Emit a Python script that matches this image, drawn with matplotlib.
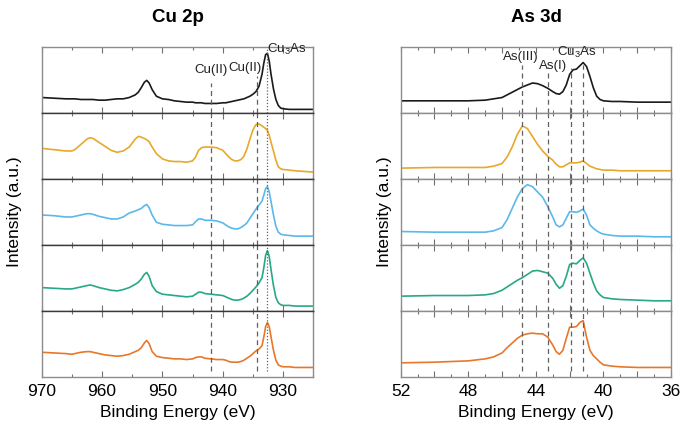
import matplotlib
matplotlib.use('Agg')
import matplotlib.pyplot as plt
from matplotlib.ticker import MultipleLocator, FuncFormatter

plt.rcParams['font.family'] = ['Liberation Sans', 'DejaVu Sans']
plt.rcParams['mathtext.default'] = 'regular'

# Cu 2p spectra (binding energy in eV, intensity as fraction of panel height)
cu_energy = [970, 968, 966, 965, 964.5, 963.5, 962.5, 962, 961.5, 960.5,
             959.5, 958.5, 957.5, 956.5, 955.5, 954.5, 954, 953.5, 953, 952.6,
             952.2, 951.7, 951, 950, 949, 948, 947, 946, 945, 944.5,
             944, 943.5, 943, 942, 941, 940, 939.5, 939, 938.5, 938,
             937.5, 937, 936.5, 936, 935.5, 935, 934.5, 934, 933.5, 933.2,
             932.9, 932.6, 932.3, 932, 931.6, 931.2, 930.8, 930.4, 930, 929,
             928, 926.5, 925]
cu_black = [0.23, 0.22, 0.21, 0.21, 0.21, 0.20, 0.20, 0.20, 0.20, 0.19,
            0.19, 0.20, 0.21, 0.21, 0.23, 0.27, 0.31, 0.38, 0.46, 0.49,
            0.45, 0.35, 0.25, 0.21, 0.20, 0.18, 0.17, 0.16, 0.16, 0.15,
            0.15, 0.15, 0.14, 0.14, 0.14, 0.15, 0.15, 0.16, 0.17, 0.18,
            0.19, 0.20, 0.21, 0.23, 0.25, 0.28, 0.32, 0.40, 0.58, 0.75,
            0.88, 0.90, 0.78, 0.58, 0.36, 0.20, 0.11, 0.07, 0.06, 0.05,
            0.05, 0.05, 0.05]
cu_orange = [0.46, 0.44, 0.42, 0.42, 0.44, 0.52, 0.60, 0.62, 0.61, 0.55,
             0.49, 0.43, 0.40, 0.42, 0.48, 0.60, 0.64, 0.63, 0.61, 0.59,
             0.56, 0.48, 0.38, 0.30, 0.27, 0.26, 0.26, 0.25, 0.27, 0.33,
             0.43, 0.47, 0.48, 0.48, 0.47, 0.43, 0.38, 0.33, 0.29, 0.27,
             0.27, 0.29, 0.34, 0.45, 0.60, 0.74, 0.82, 0.83, 0.80, 0.78,
             0.76, 0.73, 0.66, 0.55, 0.42, 0.28, 0.18, 0.15, 0.14, 0.13,
             0.12, 0.11, 0.10]
cu_blue = [0.45, 0.44, 0.42, 0.42, 0.43, 0.45, 0.47, 0.47, 0.46, 0.43,
           0.41, 0.39, 0.39, 0.42, 0.48, 0.51, 0.53, 0.55, 0.59, 0.61,
           0.56, 0.45, 0.34, 0.31, 0.30, 0.29, 0.29, 0.29, 0.30, 0.35,
           0.39, 0.39, 0.37, 0.37, 0.36, 0.33, 0.30, 0.27, 0.25, 0.24,
           0.24, 0.26, 0.29, 0.33, 0.40, 0.47, 0.54, 0.60, 0.66, 0.75,
           0.85, 0.88, 0.80, 0.65, 0.45, 0.28, 0.19, 0.16, 0.15, 0.14,
           0.13, 0.13, 0.13]
cu_green = [0.35, 0.34, 0.33, 0.33, 0.34, 0.36, 0.38, 0.39, 0.38, 0.35,
            0.33, 0.31, 0.30, 0.32, 0.35, 0.40, 0.43, 0.48, 0.55, 0.58,
            0.52, 0.38, 0.29, 0.25, 0.24, 0.23, 0.22, 0.21, 0.22, 0.25,
            0.28, 0.28, 0.26, 0.25, 0.24, 0.23, 0.21, 0.19, 0.17, 0.16,
            0.16, 0.17, 0.19, 0.22, 0.26, 0.31, 0.36, 0.42, 0.50, 0.65,
            0.84, 0.91, 0.82, 0.62, 0.38, 0.20, 0.12, 0.09, 0.08, 0.08,
            0.07, 0.07, 0.07]
cu_red = [0.37, 0.36, 0.35, 0.34, 0.35, 0.37, 0.38, 0.38, 0.37, 0.35,
          0.33, 0.32, 0.31, 0.32, 0.34, 0.38, 0.40, 0.44, 0.51, 0.55,
          0.50, 0.38, 0.31, 0.29, 0.28, 0.27, 0.27, 0.26, 0.27, 0.29,
          0.30, 0.30, 0.28, 0.27, 0.26, 0.26, 0.25, 0.23, 0.22, 0.22,
          0.22, 0.23, 0.25, 0.28, 0.31, 0.35, 0.39, 0.42, 0.47, 0.60,
          0.76, 0.82, 0.76, 0.60, 0.40, 0.25, 0.18, 0.16, 0.15, 0.15,
          0.14, 0.14, 0.14]

# As 3d spectra
as_energy = [52, 50, 48, 47, 46.5, 46, 45.7, 45.4, 45.1, 44.8,
             44.5, 44.2, 43.9, 43.6, 43.3, 43.0, 42.8, 42.6, 42.4, 42.2,
             42.0, 41.8, 41.6, 41.4, 41.2, 41.0, 40.8, 40.6, 40.4, 40.2,
             40.0, 39.5, 39, 38, 37, 36]
as_black = [0.18, 0.18, 0.18, 0.19, 0.21, 0.23, 0.27, 0.31, 0.35, 0.39,
            0.42, 0.45, 0.44, 0.41, 0.37, 0.32, 0.29, 0.28, 0.32, 0.42,
            0.58, 0.65, 0.66, 0.71, 0.76, 0.70, 0.55, 0.38, 0.25, 0.20,
            0.18, 0.17, 0.17, 0.16, 0.16, 0.16]
as_orange = [0.16, 0.17, 0.17, 0.17, 0.19, 0.23, 0.33, 0.48, 0.67, 0.80,
             0.76, 0.64, 0.52, 0.42, 0.34, 0.28, 0.22, 0.18, 0.18, 0.21,
             0.24, 0.24, 0.24, 0.25, 0.27, 0.23, 0.19, 0.17, 0.15, 0.14,
             0.13, 0.13, 0.12, 0.12, 0.12, 0.12]
as_blue = [0.20, 0.19, 0.19, 0.19, 0.21, 0.26, 0.38, 0.55, 0.72, 0.85,
           0.91, 0.88, 0.80, 0.72, 0.58, 0.42, 0.30, 0.27, 0.30, 0.40,
           0.50, 0.50, 0.49, 0.51, 0.54, 0.45, 0.30, 0.25, 0.21, 0.18,
           0.16, 0.14, 0.13, 0.13, 0.12, 0.12]
as_green = [0.22, 0.23, 0.23, 0.24, 0.26, 0.31, 0.36, 0.41, 0.46, 0.50,
            0.55, 0.60, 0.61, 0.59, 0.57, 0.49, 0.40, 0.34, 0.38, 0.52,
            0.70, 0.72, 0.71, 0.76, 0.80, 0.72, 0.57, 0.42, 0.30, 0.24,
            0.20, 0.18, 0.17, 0.16, 0.15, 0.15]
as_red = [0.21, 0.22, 0.24, 0.27, 0.30, 0.36, 0.44, 0.51, 0.58, 0.63,
          0.65, 0.66, 0.65, 0.65, 0.60, 0.48, 0.38, 0.34, 0.40, 0.58,
          0.75, 0.75, 0.76, 0.82, 0.85, 0.60, 0.40, 0.32, 0.27, 0.22,
          0.18, 0.16, 0.15, 0.14, 0.14, 0.14]

colors = ['#1a1a1a', '#E8A82A', '#5BB8EA', '#27A886', '#E8772A']

cu_lines = [942.0, 934.3, 932.75]
cu_styles = [(0, (4, 3)), (0, (4, 3)), (0, (1, 1.5))]
cu_tops = [0.45, 0.55, 0.97]
as_lines = [44.8, 43.3, 41.9, 41.2]
as_tops = [0.72, 0.60, 0.68, 0.72]

W, H = 684, 429
fig = plt.figure(figsize=(W / 100, H / 100), dpi=100)

row_top = 46.7
row_h = 66.0
panels = [
    dict(x0=41.7, x1=313.3, lim=(970, 925), major=10, minor=5, every=10,
         energy=cu_energy, series=[cu_black, cu_orange, cu_blue, cu_green, cu_red],
         vlines=cu_lines, styles=cu_styles, tops=cu_tops, sep='#3a3a3a'),
    dict(x0=400.7, x1=671.0, lim=(52, 36), major=2, minor=1, every=4,
         energy=as_energy, series=[as_black, as_orange, as_blue, as_green, as_red],
         vlines=as_lines, styles=[(0, (4, 3))] * 4, tops=as_tops, sep='#8c8c8c'),
]

top_axes = []
for p in panels:
    for i, ys in enumerate(p['series']):
        bottom_px = row_top + row_h * (i + 1)
        ax = fig.add_axes([p['x0'] / W, 1 - bottom_px / H,
                           (p['x1'] - p['x0']) / W, row_h / H])
        ax.plot(p['energy'], ys, color=colors[i], lw=1.2)
        ax.set_xlim(*p['lim'])
        ax.set_ylim(0, 1)
        ax.set_yticks([])
        ax.xaxis.set_major_locator(MultipleLocator(p['major']))
        ax.xaxis.set_minor_locator(MultipleLocator(p['minor']))
        ev = p['every']
        ax.xaxis.set_major_formatter(FuncFormatter(
            lambda v, pos, ev=ev: f'{v:.0f}' if round(v) % ev == 0 else ''))
        ax.tick_params(axis='x', which='both', direction='in', top=True, bottom=True,
                       color='#707070', labelsize=12.5, pad=5)
        ax.tick_params(axis='x', which='major', length=4.5, width=0.8)
        ax.tick_params(axis='x', which='minor', length=2.5, width=0.8)
        if i < 4:
            ax.tick_params(axis='x', labelbottom=False)
        for s in ax.spines.values():
            s.set_color('#8c8c8c')
            s.set_linewidth(1.0)
        if i > 0:
            ax.spines['top'].set_color(p['sep'])
        if i < 4:
            ax.spines['bottom'].set_color(p['sep'])
        for xv, st, tp in zip(p['vlines'], p['styles'], p['tops']):
            if i == 0:
                ax.axvline(xv, ymin=0, ymax=tp, color='#606060', lw=0.9, ls=st)
            elif i == 4:
                ax.axvline(xv, ymin=0.08, ymax=1, color='#606060', lw=0.9, ls=st)
            else:
                ax.axvline(xv, color='#606060', lw=0.9, ls=st)
        if i == 0:
            top_axes.append(ax)

ax_cu, ax_as = top_axes
lab = dict(fontsize=9.5, color='#222222')
ax_cu.text(942.0, 0.55, 'Cu(II)', ha='center', va='bottom', **lab)
ax_cu.text(936.3, 0.58, 'Cu(II)', ha='center', va='bottom', **lab)
ax_cu.text(932.75, 0.85, 'Cu$_3$As', ha='left', va='bottom', **lab)
ax_as.text(44.9, 0.75, 'As(III)', ha='center', va='bottom', **lab)
ax_as.text(43.0, 0.62, 'As(I)', ha='center', va='bottom', **lab)
ax_as.text(41.6, 0.80, 'Cu$_3$As', ha='center', va='bottom', **lab)

fig.text(177.5 / W, 1 - 18 / H, 'Cu 2p', ha='center', va='center',
         fontsize=13.5, fontweight='bold')
fig.text(536 / W, 1 - 18 / H, 'As 3d', ha='center', va='center',
         fontsize=13.5, fontweight='bold')
ymid = 1 - (row_top + 2.5 * row_h) / H
fig.text(15 / W, ymid, 'Intensity (a.u.)', rotation=90, ha='center', va='center',
         fontsize=12.5)
fig.text(385 / W, ymid, 'Intensity (a.u.)', rotation=90, ha='center', va='center',
         fontsize=12.5)
fig.text(177.5 / W, 1 - 412 / H, 'Binding Energy (eV)', ha='center', va='center',
         fontsize=12.5)
fig.text(536 / W, 1 - 412 / H, 'Binding Energy (eV)', ha='center', va='center',
         fontsize=12.5)

fig.savefig('out.png', dpi=100)
